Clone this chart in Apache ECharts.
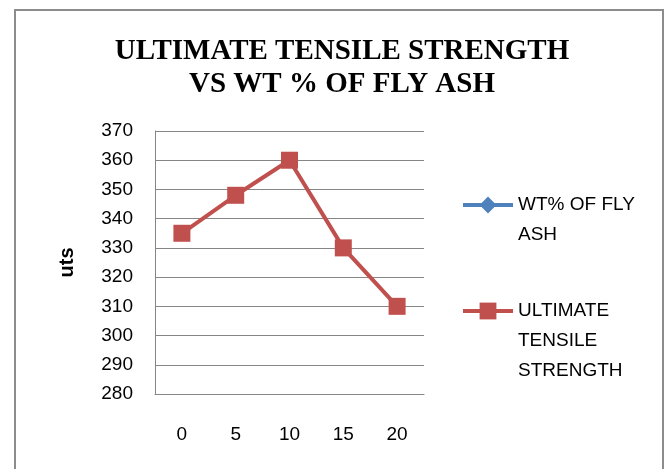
<!DOCTYPE html>
<html>
<head>
<meta charset="utf-8">
<script src="https://cdn.jsdelivr.net/npm/echarts@6/dist/echarts.min.js"></script>
<style>
html,body{margin:0;padding:0;background:#fff;}
#chart{width:668px;height:469px;}
</style>
</head>
<body>
<div id="chart"></div>
<script>
const titleText = "ULTIMATE TENSILE STRENGTH\nVS WT % OF FLY ASH";
const categories = ["0", "5", "10", "15", "20"];
const wtFlyAsh = [0, 5, 10, 15, 20];
const uts = [335, 348, 360, 330, 310];
const yTicks = { min: 280, max: 370, interval: 10 };
const yName = "uts";
const seriesNames = ["WT% OF FLY ASH", "ULTIMATE TENSILE STRENGTH"];
const legendLabels = ["WT% OF FLY\nASH", "ULTIMATE\nTENSILE\nSTRENGTH"];

const chart = echarts.init(document.getElementById('chart'), null, { renderer: 'canvas' });
const sans = "'Liberation Sans', Arial, sans-serif";
const axisGray = '#868686';

// Prepend blank lines so the first text line sits level with the legend icon
function legendText(name) {
  const label = legendLabels[seriesNames.indexOf(name)];
  const n = label.split('\n').length;
  return '\u00a0\n'.repeat(n - 1) + label;
}

function makeLegend(idx, top) {
  return {
    left: 461,
    top: top,
    padding: 0,
    orient: 'vertical',
    itemWidth: 50,
    itemHeight: 21,
    itemGap: 0,
    data: [seriesNames[idx]],
    formatter: legendText,
    lineStyle: { width: 4 },
    textStyle: { fontFamily: sans, fontSize: 19, lineHeight: 30, color: '#000' }
  };
}

const option = {
  backgroundColor: '#ffffff',
  animation: false,
  graphic: [{
    type: 'rect',
    shape: { x: 15, y: 10, width: 648, height: 480 },
    style: { fill: 'none', stroke: '#8c8c8c', lineWidth: 2 },
    silent: true
  }],
  title: {
    text: titleText,
    left: 337,
    textAlign: 'center',
    top: 30,
    textStyle: {
      fontFamily: "'Liberation Serif', 'Times New Roman', serif",
      fontWeight: 'bold',
      fontSize: 29,
      lineHeight: 33,
      color: '#000'
    }
  },
  legend: [makeLegend(0, 160), makeLegend(1, 236)],
  grid: { left: 155, right: 244, top: 131, bottom: 75 },
  xAxis: {
    type: 'category',
    data: categories,
    boundaryGap: true,
    axisLine: { show: true, lineStyle: { color: axisGray, width: 1 } },
    axisTick: { show: false },
    axisLabel: { margin: 31, fontFamily: sans, fontSize: 19, color: '#000' },
    splitLine: { show: false }
  },
  yAxis: {
    type: 'value',
    min: yTicks.min,
    max: yTicks.max,
    interval: yTicks.interval,
    name: yName,
    nameLocation: 'middle',
    nameGap: 78,
    nameRotate: 90,
    nameTextStyle: { fontFamily: sans, fontSize: 20, fontWeight: 'bold', color: '#000' },
    axisLine: { show: true, lineStyle: { color: axisGray, width: 1 } },
    axisTick: { show: false },
    axisLabel: { margin: 22, fontFamily: sans, fontSize: 19, color: '#000' },
    splitLine: { show: true, lineStyle: { color: axisGray, width: 1 } }
  },
  series: [{
    name: seriesNames[0],
    type: 'line',
    data: wtFlyAsh,
    clip: true,
    symbol: 'diamond',
    symbolSize: 12,
    itemStyle: { color: '#4F81BD' },
    lineStyle: { color: '#4F81BD', width: 4 }
  }, {
    name: seriesNames[1],
    type: 'line',
    data: uts,
    clip: true,
    symbol: 'rect',
    symbolSize: 17,
    itemStyle: { color: '#C0504D' },
    lineStyle: { color: '#C0504D', width: 4 }
  }]
};
chart.setOption(option);
</script>
</body>
</html>
